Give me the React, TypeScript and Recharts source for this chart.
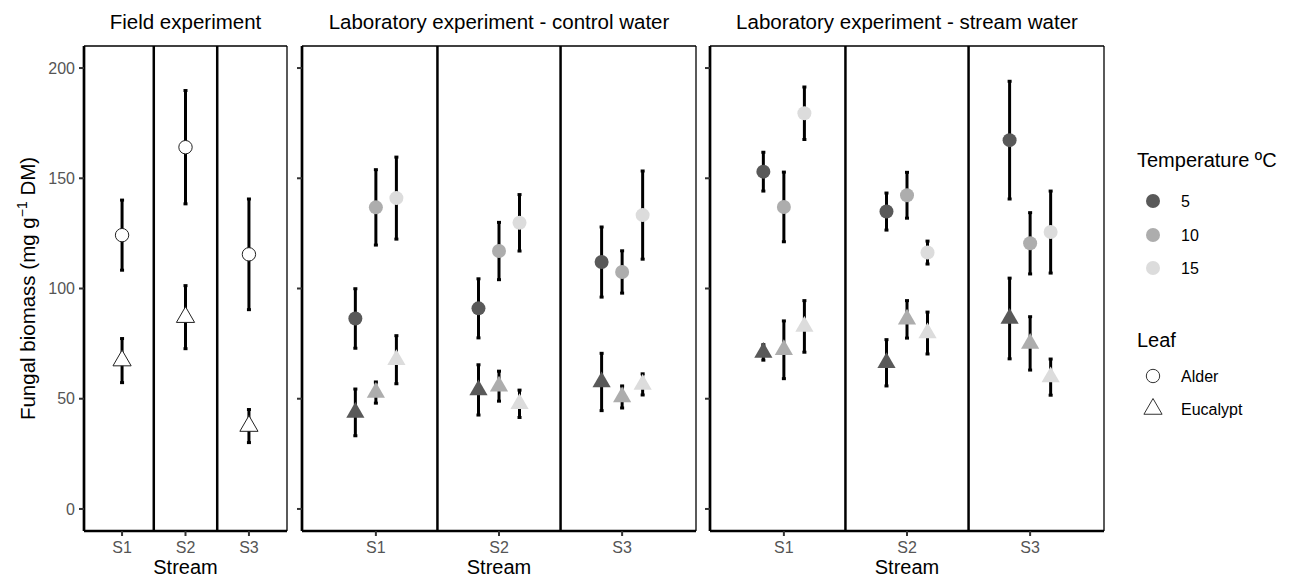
import React from 'react';
import { ScatterChart, Scatter, XAxis, YAxis, ErrorBar, ReferenceLine } from 'recharts';

const FONT = '"Liberation Sans", Arial, Helvetica, sans-serif';

const streams = ['S1', 'S2', 'S3'];
const temperatures = ['5', '10', '15'];
const tempColors = ['#595959', '#ADADAD', '#DCDCDC'];
const leaves = ['Alder', 'Eucalypt'];
const panelTitles = [
  'Field experiment',
  'Laboratory experiment - control water',
  'Laboratory experiment - stream water',
];
const yTicks = [0, 50, 100, 150, 200];

// Field experiment (no temperature treatment)
const fieldAlderMean = [124.2, 164.1, 115.5];
const fieldAlderSE = [15.9, 25.7, 25.1];
const fieldEucMean = [67.3, 87.0, 37.6];
const fieldEucSE = [10.0, 14.3, 7.5];

// Laboratory - control water (per temperature 5, 10, 15; across S1..S3)
const ctrlAlderMean = [
  [86.4, 91.0, 112.0],
  [136.8, 117.0, 107.5],
  [141.0, 129.8, 133.3],
];
const ctrlAlderSE = [
  [13.5, 13.4, 15.9],
  [17.1, 13.0, 9.6],
  [18.6, 12.8, 20.0],
];
const ctrlEucMean = [
  [43.8, 54.0, 57.6],
  [52.8, 55.7, 50.8],
  [67.7, 47.7, 56.5],
];
const ctrlEucSE = [
  [10.6, 11.4, 13.0],
  [4.8, 6.8, 5.0],
  [10.9, 6.2, 4.8],
];

// Laboratory - stream water
const strmAlderMean = [
  [153.0, 134.9, 167.3],
  [137.0, 142.3, 120.5],
  [179.5, 116.3, 125.6],
];
const strmAlderSE = [
  [8.8, 8.4, 26.7],
  [15.8, 10.4, 13.9],
  [11.9, 5.2, 18.6],
];
const strmEucMean = [
  [71.0, 66.3, 86.4],
  [72.2, 86.0, 75.1],
  [82.8, 79.8, 59.8],
];
const strmEucSE = [
  [3.5, 10.5, 18.3],
  [13.1, 8.5, 12.1],
  [11.7, 9.5, 8.2],
];

// dodge (position_dodge) in category units
const dodge = [-1 / 6, 0, 1 / 6];

const rows = (means: number[], ses: number[], off: number) =>
  streams.map((s, i) => ({ x: i + 1 + off, y: means[i], err: ses[i], stream: s }));

const circleShape = (fill: string, stroke: string, sw: number, r: number) => (p: any) => (
  <circle cx={p.cx} cy={p.cy} r={r} fill={fill} stroke={stroke} strokeWidth={sw} />
);
const triangleShape = (fill: string, stroke: string, sw: number, r: number) => (p: any) => {
  const h = (r * Math.sqrt(3)) / 2;
  return (
    <polygon
      points={`${p.cx},${p.cy - r} ${p.cx + h},${p.cy + r / 2} ${p.cx - h},${p.cy + r / 2}`}
      fill={fill}
      stroke={stroke}
      strokeWidth={sw}
    />
  );
};

type Series = { key: string; data: any[]; shape: any };

const fieldSeries: Series[] = [
  { key: 'fa', data: rows(fieldAlderMean, fieldAlderSE, 0), shape: circleShape('#FFFFFF', '#222', 1, 6.7) },
  { key: 'fe', data: rows(fieldEucMean, fieldEucSE, 0), shape: triangleShape('#FFFFFF', '#222', 1, 10.5) },
];

const labSeries = (aM: number[][], aS: number[][], eM: number[][], eS: number[][], tag: string): Series[] => {
  const out: Series[] = [];
  temperatures.forEach((t, k) => {
    out.push({ key: tag + 'a' + t, data: rows(aM[k], aS[k], dodge[k]), shape: circleShape(tempColors[k], 'none', 0, 7) });
  });
  temperatures.forEach((t, k) => {
    out.push({ key: tag + 'e' + t, data: rows(eM[k], eS[k], dodge[k]), shape: triangleShape(tempColors[k], 'none', 0, 10.5) });
  });
  return out;
};

const ctrlSeries = labSeries(ctrlAlderMean, ctrlAlderSE, ctrlEucMean, ctrlEucSE, 'c');
const strmSeries = labSeries(strmAlderMean, strmAlderSE, strmEucMean, strmEucSE, 's');

const PLOT_TOP = 46;
const PLOT_BOTTOM = 531;
const H = 579;

function Panel(props: { left: number; width: number; yw: number; labels: boolean; series: Series[] }) {
  const { left, width, yw, labels, series } = props;
  return (
    <div style={{ position: 'absolute', left, top: 0, width, height: H }}>
      <ScatterChart
        width={width}
        height={H}
        margin={{ top: PLOT_TOP, right: 1, bottom: 0, left: 0 }}
      >
        <XAxis
          type="number"
          dataKey="x"
          domain={[0.4, 3.6]}
          ticks={[1, 2, 3]}
          allowDataOverflow
          height={H - PLOT_BOTTOM}
          tickFormatter={(v: number) => streams[Math.round(v) - 1] ?? ''}
          axisLine={{ stroke: '#000', strokeWidth: 2.7 }}
          tickLine={{ stroke: '#333', strokeWidth: 2 }}
          tickSize={5}
          tickMargin={6}
          tick={{ fill: '#555', fontSize: 16, fontFamily: FONT }}
        />
        <YAxis
          type="number"
          dataKey="y"
          domain={[-10, 210]}
          ticks={yTicks}
          allowDataOverflow
          width={yw}
          tickFormatter={(v: number) => (labels ? String(v) : '')}
          axisLine={{ stroke: '#000', strokeWidth: 2.7 }}
          tickLine={{ stroke: '#333', strokeWidth: 2 }}
          tickSize={5}
          tickMargin={4}
          tick={{ fill: '#555', fontSize: 16, fontFamily: FONT }}
        />
        <ReferenceLine x={1.5} stroke="#000" strokeWidth={2.5} />
        <ReferenceLine x={2.5} stroke="#000" strokeWidth={2.5} />
        <ReferenceLine y={210} stroke="#000" strokeWidth={1.3} />
        <ReferenceLine x={3.6} stroke="#000" strokeWidth={1.3} />
        {series.map((s) => (
          <Scatter key={s.key} data={s.data} shape={s.shape} isAnimationActive={false}>
            <ErrorBar dataKey="err" direction="y" width={2} stroke="#000" strokeWidth={3} isAnimationActive={false} />
          </Scatter>
        ))}
      </ScatterChart>
    </div>
  );
}

export default function App() {
  const panels = [
    { left: 0, width: 288, yw: 84, labels: true, series: fieldSeries, cx: 185.5 },
    { left: 290, width: 407, yw: 12, labels: false, series: ctrlSeries, cx: 499 },
    { left: 698, width: 407, yw: 12, labels: false, series: strmSeries, cx: 907 },
  ];
  const legendX = 1137;
  const tempY = [201, 235, 268];
  const leafY = [376, 409];
  return (
    <div style={{ position: 'absolute', left: 0, top: 0, width: 1293, height: H, background: '#fff', fontFamily: FONT }}>
      {panels.map((p, i) => (
        <Panel key={i} left={p.left} width={p.width} yw={p.yw} labels={p.labels} series={p.series} />
      ))}
      <svg
        width={1293}
        height={H}
        style={{ position: 'absolute', left: 0, top: 0, pointerEvents: 'none' }}
        fontFamily={FONT}
      >
        {panels.map((p, i) => (
          <g key={i}>
            <text x={p.cx} y={29} textAnchor="middle" fontSize={20.5} fill="#000">
              {panelTitles[i]}
            </text>
            <text x={p.cx} y={574} textAnchor="middle" fontSize={20} fill="#000">
              Stream
            </text>
          </g>
        ))}
        <text
          transform="translate(35,288.5) rotate(-90)"
          textAnchor="middle"
          fontSize={20.5}
          fill="#000"
        >
          Fungal biomass (mg g
          <tspan dy={-8} fontSize={14}>−1</tspan>
          <tspan dy={8}> DM)</tspan>
        </text>

        <text x={legendX} y={167} fontSize={20} fill="#000">Temperature ºC</text>
        {temperatures.map((t, k) => (
          <g key={t}>
            <circle cx={1153} cy={tempY[k]} r={7} fill={tempColors[k]} />
            <text x={1181} y={tempY[k] + 6} fontSize={16} fill="#000">{t}</text>
          </g>
        ))}
        <text x={legendX} y={347} fontSize={20} fill="#000">Leaf</text>
        <circle cx={1153} cy={leafY[0]} r={6.7} fill="#fff" stroke="#333" strokeWidth={1} />
        <text x={1181} y={leafY[0] + 6} fontSize={16} fill="#000">{leaves[0]}</text>
        <polygon
          points={`1153,${leafY[1] - 10.5} ${1153 + 9.09},${leafY[1] + 5.25} ${1153 - 9.09},${leafY[1] + 5.25}`}
          fill="#fff"
          stroke="#333"
          strokeWidth={1}
        />
        <text x={1181} y={leafY[1] + 6} fontSize={16} fill="#000">{leaves[1]}</text>
      </svg>
    </div>
  );
}
